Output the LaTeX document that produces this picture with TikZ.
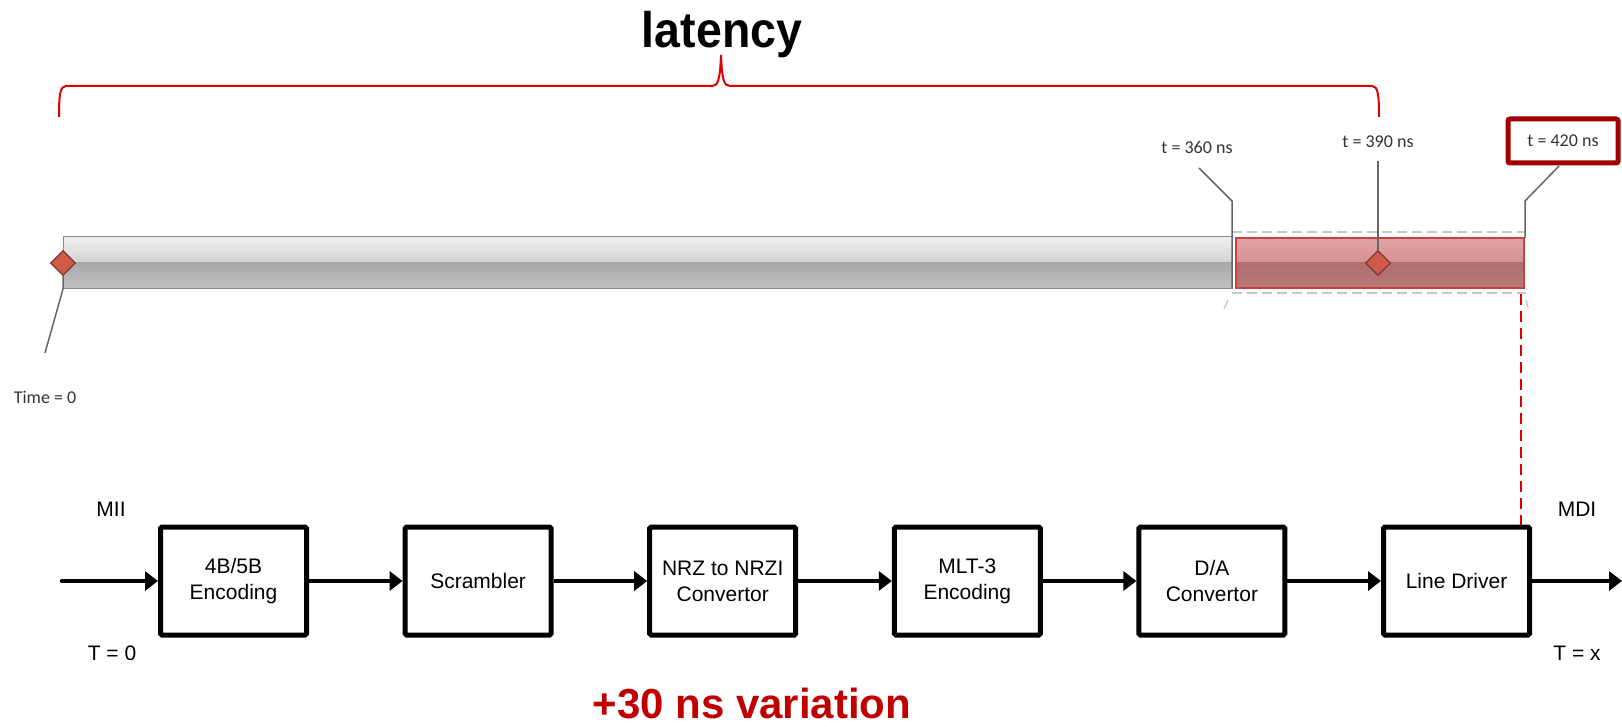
\documentclass[tikz,border=0pt]{standalone}
\usepackage{fontspec}
\setmainfont{Liberation Sans}
\newfontfamily\calib{Carlito}
\usetikzlibrary{shapes.geometric,arrows.meta}

\definecolor{bracered}{HTML}{E00000}
\definecolor{varred}{HTML}{C00000}
\definecolor{boxred}{HTML}{A00000}
\definecolor{diafill}{HTML}{D35A4B}
\definecolor{diaedge}{HTML}{7A3A33}
\definecolor{leader}{HTML}{666666}
\definecolor{gA}{HTML}{EFEFEF}
\definecolor{gB}{HTML}{D2D2D2}
\definecolor{gC}{HTML}{A8A8A8}
\definecolor{gD}{HTML}{C2C2C2}
\definecolor{gE}{HTML}{8A8A8A}
\definecolor{rA}{HTML}{E3A3A3}
\definecolor{rB}{HTML}{D69292}
\definecolor{rC}{HTML}{AF6F6F}
\definecolor{rD}{HTML}{B97979}
\definecolor{rE}{HTML}{C84040}

\begin{document}
\begin{tikzpicture}[x=1pt,y=-1pt,
  blk/.style={draw, line width=5pt, rounded corners=1.5pt, minimum width=146pt,
    minimum height=108pt, align=center, font=\fontsize{21}{26}\selectfont, inner sep=0pt},
  flow/.style={line width=4.5pt, -{Triangle[length=13pt,width=19pt]}},
  lbl/.style={font=\fontsize{21}{26}\selectfont},
  small/.style={font=\calib\fontsize{18}{20}\selectfont, text=black!80, inner sep=1pt},
  lead/.style={draw=leader, line width=1.5pt},
  dia/.style={diamond, draw=diaedge, fill=diafill, line width=1.2pt,
    minimum width=25pt, minimum height=25pt, inner sep=0pt},
  faint/.style={draw=black!22, line width=1.5pt, dash pattern=on 10pt off 5pt},
]
\useasboundingbox (0,0) rectangle (1622,727);

% title and brace
\node[font=\bfseries\fontsize{50}{56}\selectfont, xscale=0.93, anchor=base] (lat) at (722,48) {latency};
\draw[bracered, line width=2pt]
  (59,117) .. controls (59,95) and (60,86) .. (66,86) -- (712,86)
  .. controls (718,86) and (720,80) .. (721,55)
  .. controls (722,80) and (724,86) .. (730,86) -- (1372,86)
  .. controls (1378,86) and (1379,95) .. (1379,117);

% timeline bar
\shade[top color=gA, bottom color=gB] (63,237) rectangle (1232,263);
\shade[top color=gC, bottom color=gD] (63,263) rectangle (1232,289);
\draw[gE, line width=1pt] (63,237) rectangle (1232,289);

% variation window
\draw[faint] (1232,232) -- (1526,232);
\draw[faint] (1232,293) -- (1526,293);
\draw[black!22, line width=1.3pt] (1228,300) -- (1224,309);
\draw[black!22, line width=1.3pt] (1526,300) -- (1528,308);
\shade[top color=rA, bottom color=rB] (1236,238) rectangle (1524,263);
\shade[top color=rC, bottom color=rD] (1236,263) rectangle (1524,288);
\draw[rE, line width=1.5pt] (1236,238) rectangle (1524,288);

% diamonds
\node[dia] (d0) at (63,263) {};
\node[dia] (d390) at (1378,263) {};

% labels
\node[small] (l0) at (45,397) {Time = 0};
\node[small] (l360) at (1197,147) {t = 360 ns};
\node[small] (l390) at (1378,142) {t = 390 ns};
\node[small, draw=boxred, line width=5pt, rounded corners=2pt, minimum width=110pt,
  minimum height=44pt] (l420) at (1563,141) {t = 420 ns};

\coordinate (e0) at (45,353);
\coordinate (e360) at (1199,168);
\coordinate (e390) at (1378,161);
\coordinate (e420) at (1559,166);
\draw[lead] (d0.south) -- (63,289) -- (e0);
\draw[lead] (1232,289) -- (1232,201) -- (e360);
\draw[lead] (d390.north) -- (e390);
\draw[lead] (1525,238) -- (1525,201) -- (e420);

% blocks
\node[blk] (b1) at (233.5,581) {4B/5B\\Encoding};
\node[blk] (b2) at (478.1,581) {Scrambler};
\node[blk] (b3) at (722.7,581) {NRZ to NRZI\\Convertor};
\node[blk] (b4) at (967.3,581) {MLT-3\\Encoding};
\node[blk] (b5) at (1211.9,581) {D/A\\Convertor};
\node[blk] (b6) at (1456.5,581) {Line Driver};

\coordinate (in) at (62,581);
\coordinate (out) at (1622,581);
\draw[flow, line cap=round] (in) -- (b1);
\draw[flow] (b1) -- (b2);
\draw[flow] (b2) -- (b3);
\draw[flow] (b3) -- (b4);
\draw[flow] (b4) -- (b5);
\draw[flow] (b5) -- (b6);
\draw[flow] (b6) -- (out);

% red dashed marker
\coordinate (m1) at (1521,294);
\draw[bracered, line width=2pt, dash pattern=on 11pt off 6pt] (m1) -- (b6.north -| m1);

\node[lbl] (mii) at (111,509) {MII};
\node[lbl] (t0) at (112,653) {T = 0};
\node[lbl] (mdi) at (1577,509) {MDI};
\node[lbl] (tx) at (1577,653) {T = x};

\node[font=\bfseries\fontsize{42}{48}\selectfont, text=varred, anchor=base, inner sep=0pt] (var) at (752,718) {+30 ns variation};
\end{tikzpicture}
\end{document}
